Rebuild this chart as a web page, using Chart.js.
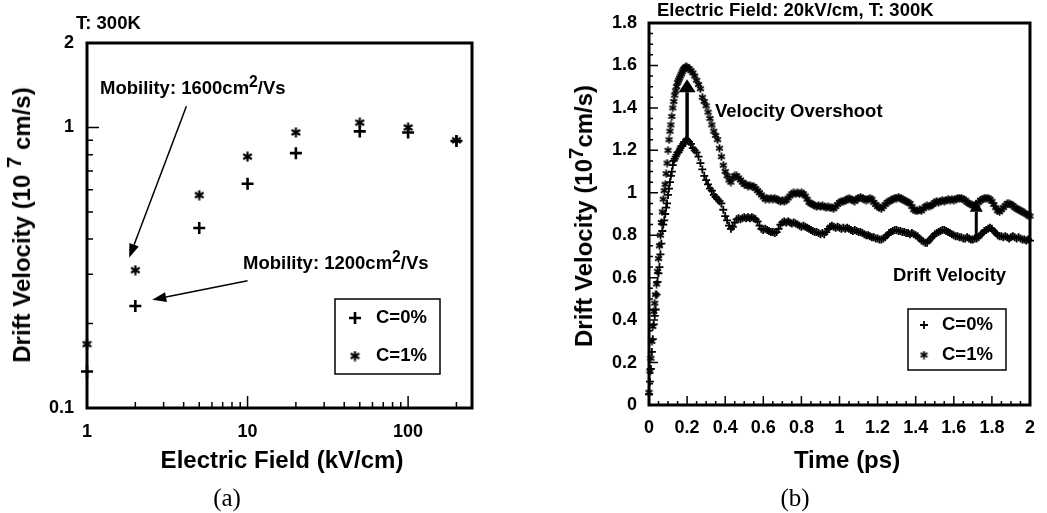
<!DOCTYPE html>
<html>
<head>
<meta charset="utf-8">
<script src="https://cdn.jsdelivr.net/npm/chart.js@4.4.1/dist/chart.umd.min.js"></script>
<style>
  body { margin: 0; background: #fff; }
  #wadah { position: relative; width: 1047px; height: 513px; overflow: hidden; font-family: 'Liberation Sans', Arial, sans-serif; font-weight: bold; color: #000; }
  canvas { position: absolute; top: 0; }
  .teks { position: absolute; white-space: nowrap; line-height: 1; font-size: 18.5px; transform: translateY(-50%); }
  .tengah { transform: translate(-50%, -50%); }
  .judul { font-size: 24px; }
  .tegak { transform: translate(-50%, -50%) rotate(-90deg); }
  .keterangan { font-family: 'Liberation Serif', 'Times New Roman', serif; font-weight: normal; font-size: 25px; }
  sup { font-size: 0.85em; vertical-align: 0.45em; line-height: 0; }
</style>
</head>
<body>
<div id="wadah">
  <canvas id="grafikA" width="530" height="513" style="left:0"></canvas>
  <canvas id="grafikB" width="517" height="513" style="left:530px"></canvas>

  <!-- (a) teks -->
  <div class="teks" style="left:76px; top:23px;">T: 300K</div>
  <div class="teks" style="left:100px; top:88px;">Mobility: 1600cm<sup>2</sup>/Vs</div>
  <div class="teks" style="left:243px; top:263px;">Mobility: 1200cm<sup>2</sup>/Vs</div>
  <div class="teks judul tengah" style="left:282px; top:460px;">Electric Field (kV/cm)</div>
  <div class="teks judul tegak" style="left:22px; top:225px;">Drift Velocity (10 <sup>7</sup> cm/s)</div>
  <div class="teks keterangan tengah" style="left:227px; top:497px;">(a)</div>

  <!-- (b) teks -->
  <div class="teks" style="left:657px; top:10px;">Electric Field: 20kV/cm, T: 300K</div>
  <div class="teks" style="left:715px; top:111px;">Velocity Overshoot</div>
  <div class="teks" style="left:893px; top:275px;">Drift Velocity</div>
  <div class="teks judul tengah" style="left:847px; top:460px;">Time (ps)</div>
  <div class="teks judul tegak" style="left:584px; top:216px;">Drift Velocity (10<sup>7</sup>cm/s)</div>
  <div class="teks keterangan tengah" style="left:795px; top:497px;">(b)</div>
</div>

<script>
// ===== DATA (a): kecepatan drift vs medan listrik =====
const fieldKVcm = [1, 2, 5, 10, 20, 50, 100, 200];
const fieldVelC0 = [0.135, 0.231, 0.438, 0.63, 0.81, 0.968, 0.96, 0.895];
const fieldVelC1 = [0.169, 0.31, 0.574, 0.787, 0.96, 1.04, 1.0, 0.9];
const fieldTickLabels = [1, 10, 100];
const fieldTickMajor = [10, 100];
const fieldTickMinor = [2, 3, 4, 5, 6, 7, 8, 9, 20, 30, 40, 50, 60, 70, 80, 90, 200];
const velLogTickLabels = [0.1, 1, 2];
const velLogTickMajor = [1];
const velLogTickMinor = [0.2, 0.3, 0.4, 0.5, 0.6, 0.7, 0.8, 0.9];

// ===== DATA (b): kecepatan drift vs waktu =====
const timeRisePs = [0, 0.005, 0.01, 0.015, 0.02, 0.025, 0.03, 0.035, 0.04, 0.045,
  0.05, 0.055, 0.06, 0.065, 0.07, 0.075, 0.08, 0.085, 0.09, 0.095,
  0.1, 0.105, 0.11, 0.115, 0.12, 0.125, 0.13, 0.135, 0.14, 0.145,
  0.15, 0.155, 0.16, 0.165, 0.17, 0.175, 0.18, 0.185, 0.19, 0.195, 0.2];
const velRiseC0 = [0.05, 0.11, 0.17, 0.25, 0.31, 0.38, 0.42, 0.45, 0.52, 0.58,
  0.62, 0.65, 0.71, 0.76, 0.82, 0.85, 0.87, 0.90, 0.93, 0.95,
  0.99, 1.02, 1.05, 1.08, 1.10, 1.13, 1.15, 1.16, 1.17, 1.18,
  1.19, 1.19, 1.20, 1.21, 1.22, 1.22, 1.23, 1.24, 1.24, 1.25, 1.25];
const velRiseC1 = [0.06, 0.16, 0.22, 0.30, 0.37, 0.44, 0.48, 0.52, 0.57, 0.63,
  0.69, 0.75, 0.80, 0.86, 0.91, 0.97, 1.01, 1.04, 1.09, 1.14,
  1.20, 1.25, 1.29, 1.32, 1.36, 1.40, 1.43, 1.46, 1.48, 1.50,
  1.52, 1.53, 1.54, 1.55, 1.56, 1.57, 1.58, 1.585, 1.59, 1.595, 1.59];

const timeTailPs = [
  0.21, 0.22, 0.23, 0.24, 0.25, 0.26, 0.27, 0.28, 0.29, 0.30,
  0.31, 0.32, 0.33, 0.34, 0.35, 0.36, 0.37, 0.38, 0.39, 0.40,
  0.41, 0.42, 0.43, 0.44, 0.45, 0.46, 0.47, 0.48, 0.49, 0.50,
  0.51, 0.52, 0.53, 0.54, 0.55, 0.56, 0.57, 0.58, 0.59, 0.60,
  0.61, 0.62, 0.63, 0.64, 0.65, 0.66, 0.67, 0.68, 0.69, 0.70,
  0.71, 0.72, 0.73, 0.74, 0.75, 0.76, 0.77, 0.78, 0.79, 0.80,
  0.81, 0.82, 0.83, 0.84, 0.85, 0.86, 0.87, 0.88, 0.89, 0.90,
  0.91, 0.92, 0.93, 0.94, 0.95, 0.96, 0.97, 0.98, 0.99, 1.00,
  1.01, 1.02, 1.03, 1.04, 1.05, 1.06, 1.07, 1.08, 1.09, 1.10,
  1.11, 1.12, 1.13, 1.14, 1.15, 1.16, 1.17, 1.18, 1.19, 1.20,
  1.21, 1.22, 1.23, 1.24, 1.25, 1.26, 1.27, 1.28, 1.29, 1.30,
  1.31, 1.32, 1.33, 1.34, 1.35, 1.36, 1.37, 1.38, 1.39, 1.40,
  1.41, 1.42, 1.43, 1.44, 1.45, 1.46, 1.47, 1.48, 1.49, 1.50,
  1.51, 1.52, 1.53, 1.54, 1.55, 1.56, 1.57, 1.58, 1.59, 1.60,
  1.61, 1.62, 1.63, 1.64, 1.65, 1.66, 1.67, 1.68, 1.69, 1.70,
  1.71, 1.72, 1.73, 1.74, 1.75, 1.76, 1.77, 1.78, 1.79, 1.80,
  1.81, 1.82, 1.83, 1.84, 1.85, 1.86, 1.87, 1.88, 1.89, 1.90,
  1.91, 1.92, 1.93, 1.94, 1.95, 1.96, 1.97, 1.98, 1.99, 2.00];
const velTailC0 = [
  1.24, 1.23, 1.21, 1.20, 1.19, 1.17, 1.14, 1.11, 1.08, 1.06,
  1.04, 1.02, 1.01, 0.99, 0.98, 0.97, 0.96, 0.95, 0.92, 0.89,
  0.87, 0.845, 0.83, 0.84, 0.86, 0.875, 0.88, 0.875, 0.88, 0.885,
  0.88, 0.885, 0.88, 0.885, 0.88, 0.875, 0.865, 0.845, 0.83, 0.825,
  0.83, 0.825, 0.82, 0.815, 0.815, 0.81, 0.815, 0.83, 0.85, 0.86,
  0.865, 0.86, 0.865, 0.86, 0.855, 0.86, 0.855, 0.85, 0.845, 0.84,
  0.845, 0.84, 0.835, 0.83, 0.825, 0.82, 0.815, 0.815, 0.81, 0.805,
  0.81, 0.805, 0.815, 0.83, 0.84, 0.845, 0.84, 0.835, 0.84, 0.835,
  0.83, 0.835, 0.83, 0.835, 0.83, 0.825, 0.82, 0.825, 0.82, 0.815,
  0.815, 0.81, 0.805, 0.80, 0.80, 0.795, 0.79, 0.79, 0.785, 0.785,
  0.78, 0.78, 0.785, 0.79, 0.80, 0.81, 0.815, 0.82, 0.825, 0.825,
  0.82, 0.82, 0.815, 0.815, 0.81, 0.81, 0.805, 0.81, 0.805, 0.80,
  0.795, 0.785, 0.775, 0.77, 0.765, 0.765, 0.775, 0.785, 0.795, 0.805,
  0.81, 0.815, 0.82, 0.825, 0.825, 0.82, 0.815, 0.81, 0.805, 0.80,
  0.795, 0.795, 0.79, 0.79, 0.785, 0.785, 0.79, 0.785, 0.78, 0.78,
  0.785, 0.785, 0.79, 0.80, 0.81, 0.82, 0.825, 0.83, 0.835, 0.83,
  0.82, 0.81, 0.80, 0.795, 0.795, 0.79, 0.795, 0.79, 0.785, 0.79,
  0.795, 0.79, 0.785, 0.79, 0.785, 0.78, 0.78, 0.775, 0.78, 0.775];
const velTailC1 = [
  1.585, 1.575, 1.565, 1.55, 1.53, 1.51, 1.49, 1.45, 1.43, 1.41,
  1.38, 1.35, 1.32, 1.29, 1.27, 1.25, 1.21, 1.17, 1.13, 1.10,
  1.08, 1.06, 1.05, 1.07, 1.08, 1.08, 1.07, 1.06, 1.05, 1.04,
  1.04, 1.03, 1.035, 1.03, 1.03, 1.02, 1.01, 1.00, 0.99, 0.98,
  0.97, 0.975, 0.97, 0.975, 0.97, 0.975, 0.97, 0.965, 0.96, 0.965,
  0.96, 0.965, 0.975, 0.985, 0.995, 1.00, 0.995, 1.00, 0.995, 1.00,
  0.995, 0.985, 0.97, 0.955, 0.95, 0.945, 0.94, 0.935, 0.94, 0.935,
  0.94, 0.935, 0.93, 0.935, 0.93, 0.93, 0.925, 0.935, 0.945, 0.955,
  0.96, 0.96, 0.962, 0.97, 0.975, 0.97, 0.965, 0.96, 0.97, 0.975,
  0.98, 0.975, 0.97, 0.965, 0.97, 0.975, 0.97, 0.955, 0.945, 0.935,
  0.93, 0.925, 0.935, 0.945, 0.955, 0.96, 0.965, 0.97, 0.975, 0.975,
  0.98, 0.975, 0.97, 0.965, 0.96, 0.955, 0.95, 0.935, 0.92, 0.915,
  0.915, 0.92, 0.915, 0.925, 0.935, 0.94, 0.935, 0.94, 0.945, 0.955,
  0.96, 0.955, 0.96, 0.965, 0.96, 0.965, 0.97, 0.965, 0.97, 0.965,
  0.97, 0.975, 0.975, 0.975, 0.97, 0.965, 0.955, 0.95, 0.945, 0.94,
  0.94, 0.945, 0.955, 0.965, 0.97, 0.975, 0.975, 0.975, 0.97, 0.96,
  0.945, 0.93, 0.915, 0.91, 0.92, 0.93, 0.94, 0.95, 0.95, 0.945,
  0.94, 0.93, 0.925, 0.92, 0.915, 0.91, 0.905, 0.90, 0.895, 0.89];
const timeTickLabels = [0, 0.2, 0.4, 0.6, 0.8, 1, 1.2, 1.4, 1.6, 1.8, 2];
const timeTickMinor = [0.05, 0.1, 0.15, 0.25, 0.3, 0.35, 0.45, 0.5, 0.55, 0.65, 0.7, 0.75, 0.85, 0.9, 0.95,
  1.05, 1.1, 1.15, 1.25, 1.3, 1.35, 1.45, 1.5, 1.55, 1.65, 1.7, 1.75, 1.85, 1.9, 1.95];
const velTickLabels = [0, 0.2, 0.4, 0.6, 0.8, 1, 1.2, 1.4, 1.6, 1.8];
const velTickMinor = [0.05, 0.1, 0.15, 0.25, 0.3, 0.35, 0.45, 0.5, 0.55, 0.65, 0.7, 0.75, 0.85, 0.9, 0.95,
  1.05, 1.1, 1.15, 1.25, 1.3, 1.35, 1.45, 1.5, 1.55, 1.65, 1.7, 1.75];

// ===== GAYA =====
const FONT = "'Liberation Sans', Arial, sans-serif";
Chart.defaults.font.family = FONT;
Chart.defaults.font.weight = 'bold';
Chart.defaults.font.size = 18;
Chart.defaults.color = '#000';

// penanda bintang (asterisk) dibuat di canvas kecil
function buatBintang(ukuran, tebal) {
  const c = document.createElement('canvas');
  c.width = c.height = ukuran;
  const g = c.getContext('2d');
  g.strokeStyle = '#000';
  g.lineWidth = tebal;
  const r = ukuran / 2 - 0.5, m = ukuran / 2;
  [90, 30, 150].forEach(d => {
    const a = d * Math.PI / 180;
    g.beginPath();
    g.moveTo(m + r * Math.cos(a), m - r * Math.sin(a));
    g.lineTo(m - r * Math.cos(a), m + r * Math.sin(a));
    g.stroke();
  });
  return c;
}
const bintangBesar = buatBintang(11, 2.2);
const bintangKecil = buatBintang(9, 1.8);

// bingkai + tanda tick ke dalam
const tandaSumbu = {
  id: 'tandaSumbu',
  beforeDatasetsDraw(chart, args, o) {
    const { ctx, chartArea: a, scales: { x, y } } = chart;
    ctx.save();
    ctx.strokeStyle = '#000';
    ctx.lineWidth = 1.5;
    ctx.beginPath();
    const tx = (vals, len) => vals.forEach(v => {
      const p = x.getPixelForValue(v);
      ctx.moveTo(p, a.bottom); ctx.lineTo(p, a.bottom - len);
    });
    const ty = (vals, len) => vals.forEach(v => {
      const p = y.getPixelForValue(v);
      ctx.moveTo(a.left, p); ctx.lineTo(a.left + len, p);
    });
    tx(o.xMajor, o.panjang); tx(o.xMinor, o.pendek);
    ty(o.yMajor, o.panjang); ty(o.yMinor, o.pendek);
    ctx.stroke();
    ctx.lineWidth = 3;
    ctx.strokeRect(a.left, a.top, a.right - a.left, a.bottom - a.top);
    ctx.restore();
  }
};

// legenda dalam kotak
const legendaKotak = {
  id: 'legendaKotak',
  afterDraw(chart, args, o) {
    const ctx = chart.ctx;
    ctx.save();
    ctx.strokeStyle = '#000';
    ctx.fillStyle = '#000';
    ctx.lineWidth = 1.5;
    ctx.strokeRect(o.kotak[0], o.kotak[1], o.kotak[2], o.kotak[3]);
    ctx.font = 'bold 18.5px ' + FONT;
    ctx.textBaseline = 'middle';
    chart.data.datasets.forEach((ds, i) => {
      const yy = o.baris[i];
      ctx.lineWidth = ds.pointBorderWidth;
      Chart.helpers.drawPoint(ctx, { pointStyle: ds.pointStyle, radius: ds.pointRadius, borderWidth: ds.pointBorderWidth, rotation: 0 }, o.xPenanda, yy);
      ctx.fillText(ds.label, o.xTeks, yy);
    });
    ctx.restore();
  }
};

// panah anotasi (koordinat dalam satuan data)
const panahAnotasi = {
  id: 'panahAnotasi',
  afterDraw(chart, args, o) {
    const { ctx, scales: { x, y } } = chart;
    ctx.save();
    ctx.strokeStyle = '#000';
    ctx.fillStyle = '#000';
    o.daftar.forEach(p => {
      const x0 = x.getPixelForValue(p.dari[0]), y0 = y.getPixelForValue(p.dari[1]);
      const x1 = x.getPixelForValue(p.ke[0]), y1 = y.getPixelForValue(p.ke[1]);
      const s = Math.atan2(y1 - y0, x1 - x0);
      const bx = x1 - p.kepala * Math.cos(s), by = y1 - p.kepala * Math.sin(s);
      ctx.lineWidth = p.tebal;
      ctx.beginPath(); ctx.moveTo(x0, y0); ctx.lineTo(bx, by); ctx.stroke();
      const h = p.lebar / 2;
      ctx.beginPath();
      ctx.moveTo(x1, y1);
      ctx.lineTo(bx + h * Math.sin(s), by - h * Math.cos(s));
      ctx.lineTo(bx - h * Math.sin(s), by + h * Math.cos(s));
      ctx.closePath(); ctx.fill();
    });
    ctx.restore();
  }
};

const jadiTitik = (xs, ys) => xs.map((v, i) => ({ x: v, y: ys[i] }));
const pasangTicks = vals => s => { s.ticks = vals.map(v => ({ value: v })); };

// ===== GRAFIK (a) =====
new Chart(document.getElementById('grafikA'), {
  type: 'scatter',
  data: {
    datasets: [
      { label: 'C=0%', data: jadiTitik(fieldKVcm, fieldVelC0), pointStyle: 'cross', pointRadius: 6, pointBorderWidth: 2.6, borderColor: '#000', backgroundColor: '#000', clip: false },
      { label: 'C=1%', data: jadiTitik(fieldKVcm, fieldVelC1), pointStyle: bintangBesar, pointRadius: 5, pointBorderWidth: 2, borderColor: '#000', backgroundColor: '#000', clip: false }
    ]
  },
  options: {
    responsive: false,
    animation: false,
    devicePixelRatio: 1,
    layout: { padding: { left: 0, top: 43, right: 58, bottom: 0 } },
    plugins: {
      legend: { display: false },
      tooltip: { enabled: false },
      tandaSumbu: { xMajor: fieldTickMajor, xMinor: fieldTickMinor, yMajor: velLogTickMajor, yMinor: velLogTickMinor, panjang: 12, pendek: 6 },
      legendaKotak: { kotak: [335, 299, 105, 75], baris: [318, 356], xPenanda: 355, xTeks: 376 },
      panahAnotasi: { daftar: [
        { dari: [4.16, 1.19], ke: [1.83, 0.343], kepala: 14, lebar: 10, tebal: 1.5 },
        { dari: [10, 0.284], ke: [2.55, 0.243], kepala: 14, lebar: 10, tebal: 1.5 }
      ] }
    },
    scales: {
      x: {
        type: 'logarithmic', min: 1, max: 250,
        afterBuildTicks: pasangTicks(fieldTickLabels),
        afterFit: s => { s.height = 105; },
        ticks: { callback: v => String(v), padding: 13, maxRotation: 0, autoSkip: false },
        grid: { display: false, drawTicks: false },
        border: { display: false }
      },
      y: {
        type: 'logarithmic', min: 0.1, max: 2,
        afterBuildTicks: pasangTicks(velLogTickLabels),
        afterFit: s => { s.width = 87; },
        ticks: { callback: v => String(v), padding: 13, autoSkip: false },
        grid: { display: false, drawTicks: false },
        border: { display: false }
      }
    }
  },
  plugins: [tandaSumbu, legendaKotak, panahAnotasi]
});

// ===== GRAFIK (b) =====
const timePs = timeRisePs.concat(timeTailPs);
const velC0 = velRiseC0.concat(velTailC0);
const velC1 = velRiseC1.concat(velTailC1);

new Chart(document.getElementById('grafikB'), {
  type: 'scatter',
  data: {
    datasets: [
      { label: 'C=0%', data: jadiTitik(timePs, velC0), pointStyle: 'cross', pointRadius: 4, pointBorderWidth: 1.8, borderColor: '#000', backgroundColor: '#000', clip: false },
      { label: 'C=1%', data: jadiTitik(timePs, velC1), pointStyle: bintangKecil, pointRadius: 4.5, pointBorderWidth: 1.8, borderColor: '#000', backgroundColor: '#000', clip: false }
    ]
  },
  options: {
    responsive: false,
    animation: false,
    devicePixelRatio: 1,
    layout: { padding: { left: 0, top: 23, right: 6, bottom: 0 } },
    plugins: {
      legend: { display: false },
      tooltip: { enabled: false },
      tandaSumbu: { xMajor: timeTickLabels, xMinor: timeTickMinor, yMajor: velTickLabels, yMinor: velTickMinor, panjang: 9, pendek: 4 },
      legendaKotak: { kotak: [378, 309, 98, 61], baris: [325, 355], xPenanda: 394, xTeks: 412 },
      panahAnotasi: { daftar: [
        { dari: [0.2, 1.255], ke: [0.2, 1.535], kepala: 13, lebar: 17, tebal: 3.5 },
        { dari: [1.718, 0.778], ke: [1.718, 0.967], kepala: 12, lebar: 13, tebal: 3 }
      ] }
    },
    scales: {
      x: {
        type: 'linear', min: 0, max: 2,
        afterBuildTicks: pasangTicks(timeTickLabels),
        afterFit: s => { s.height = 108; },
        ticks: { callback: v => String(v), padding: 12, maxRotation: 0, autoSkip: false },
        grid: { display: false, drawTicks: false },
        border: { display: false }
      },
      y: {
        type: 'linear', min: 0, max: 1.8,
        afterBuildTicks: pasangTicks(velTickLabels),
        afterFit: s => { s.width = 119; },
        ticks: { callback: v => String(v), padding: 12, autoSkip: false },
        grid: { display: false, drawTicks: false },
        border: { display: false }
      }
    }
  },
  plugins: [tandaSumbu, legendaKotak, panahAnotasi]
});
</script>
</body>
</html>
